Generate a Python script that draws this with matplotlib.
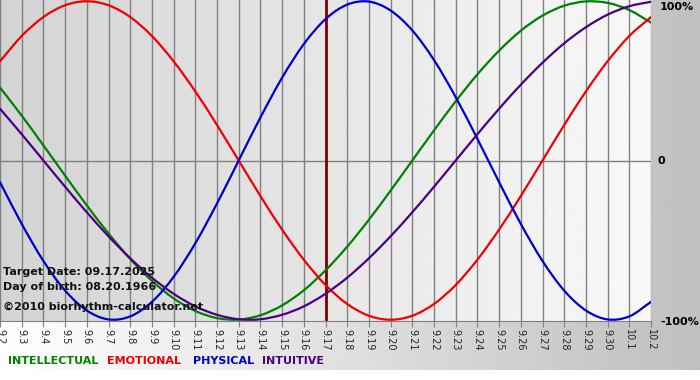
"""Biorhythm chart for a target date, 09.02 to 10.02."""

import matplotlib

matplotlib.use("Agg")
import matplotlib.pyplot as plt
import numpy as np
from matplotlib.patches import PathPatch
from matplotlib.path import Path

# day labels along the bottom axis
day_labels = [f"9.{d}" for d in range(2, 31)] + ["10.1", "10.2"]

# cycle values, one per day (-1 .. 1)
intellectual = [0.458, 0.282, 0.095, -0.095, -0.282, -0.458, -0.618, -0.756, -0.866, -0.945,
                -0.990, -0.999, -0.972, -0.910, -0.815, -0.690, -0.541, -0.372, -0.189, 0.000,
                0.189, 0.372, 0.541, 0.690, 0.815, 0.910, 0.972, 0.999, 0.990, 0.945, 0.866]
emotional = [0.623, 0.782, 0.901, 0.975, 1.000, 0.975, 0.901, 0.782, 0.623, 0.434,
             0.223, 0.000, -0.223, -0.434, -0.623, -0.782, -0.901, -0.975, -1.000, -0.975,
             -0.901, -0.782, -0.623, -0.434, -0.223, 0.000, 0.223, 0.434, 0.623, 0.782, 0.901]
physical = [-0.136, -0.398, -0.631, -0.817, -0.942, -0.998, -0.979, -0.888, -0.731, -0.520,
            -0.270, 0.000, 0.270, 0.520, 0.731, 0.888, 0.979, 0.998, 0.942, 0.817,
            0.631, 0.398, 0.136, -0.136, -0.398, -0.631, -0.817, -0.942, -0.998, -0.979, -0.888]
intuitive = [0.325, 0.165, 0.000, -0.165, -0.325, -0.476, -0.614, -0.736, -0.837, -0.916,
             -0.969, -0.997, -0.997, -0.969, -0.916, -0.837, -0.736, -0.614, -0.476, -0.325,
             -0.165, 0.000, 0.165, 0.325, 0.476, 0.614, 0.736, 0.837, 0.916, 0.969, 0.997]

series_names = ["INTELLECTUAL", "EMOTIONAL", "PHYSICAL", "INTUITIVE"]
series_colors = ["#008000", "#f00000", "#0000cc", "#4b0082"]
target_index = day_labels.index("9.17")


def smooth_path(xs, ys):
    """Catmull-Rom curve through the points, as cubic bezier segments."""
    pts = np.column_stack([xs, ys]).astype(float)
    padded = np.vstack([2 * pts[0] - pts[1], pts, 2 * pts[-1] - pts[-2]])
    verts = [pts[0]]
    codes = [Path.MOVETO]
    for i in range(1, len(padded) - 2):
        p0, p1, p2, p3 = padded[i - 1], padded[i], padded[i + 1], padded[i + 2]
        verts += [p1 + (p2 - p0) / 6, p2 - (p3 - p1) / 6, p2]
        codes += [Path.CURVE4] * 3
    return Path(verts, codes)


W, H = 700, 380
fig = plt.figure(figsize=(W / 100, H / 100), dpi=100, facecolor="white")

# outer background: horizontal white -> gray gradient above a white strip
bg = fig.add_axes([0, 10 / H, 1, 1 - 10 / H])
bg.imshow(np.linspace(1.0, 0.75, 256)[None, :], cmap="gray", vmin=0, vmax=1,
          aspect="auto", extent=[0, 1, 0, 1])
bg.set_axis_off()

plot_right = 651
plot_bottom = 321
ax = fig.add_axes([0, (H - plot_bottom) / H, plot_right / W, plot_bottom / H])
x = np.arange(len(day_labels))
ax.set_xlim(0, len(day_labels) - 1)
ax.set_ylim(-1.008, 1.008)

# plot area gradient: darker left, lighter right
ax.imshow(np.linspace(0.83, 0.975, 256)[None, :], cmap="gray", vmin=0, vmax=1,
          aspect="auto", extent=[0, len(day_labels) - 1, -1.008, 1.008], zorder=0)

for xi in x:
    ax.axvline(xi, color="#808080", lw=1, zorder=1)
ax.axhline(0, color="#808080", lw=1, zorder=1)
ax.axvline(target_index, color="#800000", lw=2, zorder=2)

for values, color in zip([intellectual, emotional, physical, intuitive], series_colors):
    ax.add_patch(PathPatch(smooth_path(x, values), facecolor="none",
                           edgecolor=color, lw=1.6, zorder=3, capstyle="round"))

for spine in ["top", "right", "left"]:
    ax.spines[spine].set_visible(False)
ax.spines["bottom"].set_color("#808080")
ax.set_yticks([])
ax.set_xticks(x)
ax.set_xticklabels(day_labels, rotation=-90, fontsize=7, color="#222222")
ax.tick_params(axis="x", length=4, color="#808080", pad=2)

fig.text(3 / W, 1 - 272 / H, "Target Date: 09.17.2025", va="center",
         fontsize=8, fontweight="bold", color="#111111")
fig.text(3 / W, 1 - 287 / H, "Day of birth: 08.20.1966", va="center",
         fontsize=8, fontweight="bold", color="#111111")
fig.text(3 / W, 1 - 307 / H, "\u00a92010 biorhythm-calculator.net", va="center",
         fontsize=8, fontweight="bold", color="#111111")

# right side scale labels
fig.text(660 / W, 1 - 7 / H, "100%", va="center", fontsize=8, fontweight="bold")
fig.text(658 / W, 1 - 161 / H, "0", va="center", fontsize=8, fontweight="bold")
fig.text(660 / W, 1 - 322 / H, "-100%", va="center", fontsize=8, fontweight="bold")

# bottom legend
legend_x = [8, 107, 193, 262]
for name, color, lx in zip(series_names, series_colors, legend_x):
    fig.text(lx / W, 1 - 361 / H, name, va="center", fontsize=8,
             fontweight="bold", color=color)

fig.savefig("out.png", dpi=100, facecolor=fig.get_facecolor())
